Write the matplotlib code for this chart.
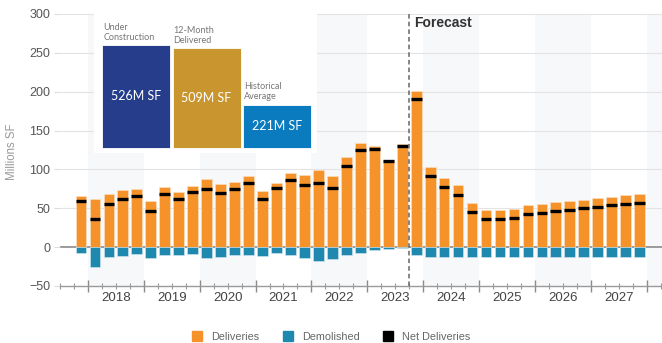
import matplotlib
matplotlib.use("Agg")
import matplotlib.pyplot as plt
from matplotlib.lines import Line2D
import numpy as np

plt.rcParams["font.family"] = ["Liberation Sans", "DejaVu Sans"]

# Quarterly series, 2017 Q4 through 2027 Q4 (millions of square feet)
quarters = [f"{y}Q{q}" for y in range(2017, 2028) for q in range(1, 5)][3:]
deliveries = [65.7,
              61.5, 69.0, 73.0, 74.7,
              59.7, 78.0, 71.0, 78.6,
              88.0, 80.8, 84.0, 92.0,
              72.6, 82.0, 95.8, 93.0,
              99.0, 91.0, 115.6, 133.6,
              130.0, 112.0, 132.3, 201.5,
              103.5, 88.5, 79.5, 56.5,
              47.7, 48.0, 48.5, 54.0,
              55.8, 58.0, 59.7, 61.0,
              63.6, 65.0, 66.6, 67.9]
demolished = [-7.0,
              -26.0, -13.0, -11.6, -9.0,
              -14.6, -9.5, -10.0, -9.0,
              -14.6, -12.5, -10.0, -10.3,
              -11.6, -7.0, -10.7, -14.0,
              -17.6, -15.0, -10.3, -8.0,
              -3.9, -2.0, -1.2, -10.3,
              -12.5, -13.0, -13.0, -13.0,
              -13.0, -13.0, -13.0, -13.0,
              -13.0, -13.0, -13.0, -13.0,
              -13.0, -13.0, -13.0, -13.0]
net_deliveries = [59.0,
                  35.7, 56.0, 62.0, 66.0,
                  46.4, 69.0, 62.0, 71.0,
                  75.0, 70.0, 75.0, 83.0,
                  62.0, 76.5, 86.0, 80.0,
                  82.0, 76.0, 105.0, 125.6,
                  126.5, 110.4, 130.5, 191.0,
                  91.5, 77.3, 67.0, 44.7,
                  35.7, 36.0, 37.0, 42.5,
                  44.2, 46.4, 48.0, 49.8,
                  51.5, 53.7, 55.0, 56.3]
years = list(range(2018, 2028))
forecast_start = "2023Q4"

# Summary panel
summary_labels = ["Under\nConstruction", "12-Month\nDelivered", "Historical\nAverage"]
summary_values = [526, 509, 221]
summary_colors = ["#263D8C", "#C9952F", "#0B7BC0"]

ORANGE = "#F5922A"
TEAL = "#1E88AF"

fig = plt.figure(figsize=(6.62, 3.43), dpi=100)
ax = fig.add_axes([60 / 662, 57 / 343, 602 / 662, 272 / 343])

x = np.arange(len(quarters))
first_year_q = quarters.index("2018Q1")
year_edges = [first_year_q - 0.5 + 4 * i for i in range(len(years) + 1)]
year_centers = [first_year_q + 1.5 + 4 * i for i in range(len(years))]

# alternating year bands
for i, edge in enumerate(year_edges):
    if i % 2 == 0:
        ax.axvspan(edge, edge + 4, color="#F7F8FA", zorder=0, lw=0)

# horizontal grid
for v in range(50, 301, 50):
    ax.axhline(v, color="#E4E4E4", lw=0.8, zorder=0.5)
ax.axhline(0, color="#8A8A8A", lw=1.2, zorder=1.5)

bw = 0.77
ax.bar(x, deliveries, width=bw, color=ORANGE, edgecolor="#FBE3C8", lw=0.4, zorder=2)
ax.bar(x, demolished, width=bw, color=TEAL, edgecolor="#D6EAF2", lw=0.4, zorder=2)
ax.hlines(net_deliveries, x - bw / 2, x + bw / 2, color="black", lw=2.4, zorder=4)

# forecast divider
fx = quarters.index(forecast_start) - 0.5
ax.axvline(fx, color="#666666", lw=1.1, ls=(0, (3, 2)), zorder=5)
ax.text(fx + 0.38, 289, "Forecast", fontsize=10, fontweight="bold", color="#333333",
        ha="left", va="center", zorder=6)

ax.set_xlim(-1.5, 41.6)
ax.set_ylim(-50, 300)

for s in ["top", "right", "left"]:
    ax.spines[s].set_visible(False)
ax.spines["bottom"].set_color("#9A9A9A")
ax.spines["bottom"].set_linewidth(1.0)

ax.set_yticks(range(-50, 301, 50))
ax.tick_params(axis="y", length=4, color="#DDDDDD", labelsize=9, labelcolor="#555555", pad=3)

ax.set_xticks(year_edges)
ax.set_xticklabels([])
ax.set_xticks(np.arange(-1.5, 41.6, 1.0), minor=True)
ax.tick_params(axis="x", which="major", direction="inout", length=9, width=1.0, color="#8A8A8A")
ax.tick_params(axis="x", which="minor", direction="inout", length=4.5, width=0.8, color="#9A9A9A")
for yr, cx in zip(years, year_centers):
    ax.text(cx, -65.5, str(yr), ha="center", va="center", fontsize=9.5,
            color="#444444", clip_on=False)

fig.text(12 / 662, (343 - 152) / 343, "Millions SF", rotation=90, ha="center", va="center",
         fontsize=8.3, color="#9A9A9A")

# legend
handles = [Line2D([], [], marker="s", ls="none", markersize=7, color=c)
           for c in [ORANGE, TEAL, "black"]]
fig.legend(handles, ["Deliveries", "Demolished", "Net Deliveries"], loc="center",
           bbox_to_anchor=(0.501, 0.018), ncol=3, frameon=False, fontsize=7.8,
           labelcolor="#666666", handlelength=0.8, handletextpad=0.9,
           columnspacing=2.2, borderpad=0)

# summary panel
ax_in = fig.add_axes([94 / 662, (343 - 153) / 343, 223 / 662, 140 / 343], zorder=10)
ax_in.set_facecolor("white")
for s in ax_in.spines.values():
    s.set_visible(False)
ax_in.set_xticks([])
ax_in.set_yticks([])
sx = np.arange(len(summary_values))
sw = 0.965
ax_in.bar(sx, summary_values, width=sw, color=summary_colors, edgecolor="white", lw=0.6)
ax_in.set_xlim(-0.603, 2.571)
ax_in.set_ylim(-27, 691)
for i, (lab, v) in enumerate(zip(summary_labels, summary_values)):
    ax_in.text(i, v / 2, f"{v}M SF", ha="center", va="center", fontsize=9,
               color="white", family=["Lato", "DejaVu Sans"])
    ax_in.text(i - sw / 2 + 0.01, v + 18, lab, ha="left", va="bottom", fontsize=6.5,
               color="#777777", linespacing=1.1, family=["Lato", "DejaVu Sans"])

fig.savefig("out.png", dpi=100)
